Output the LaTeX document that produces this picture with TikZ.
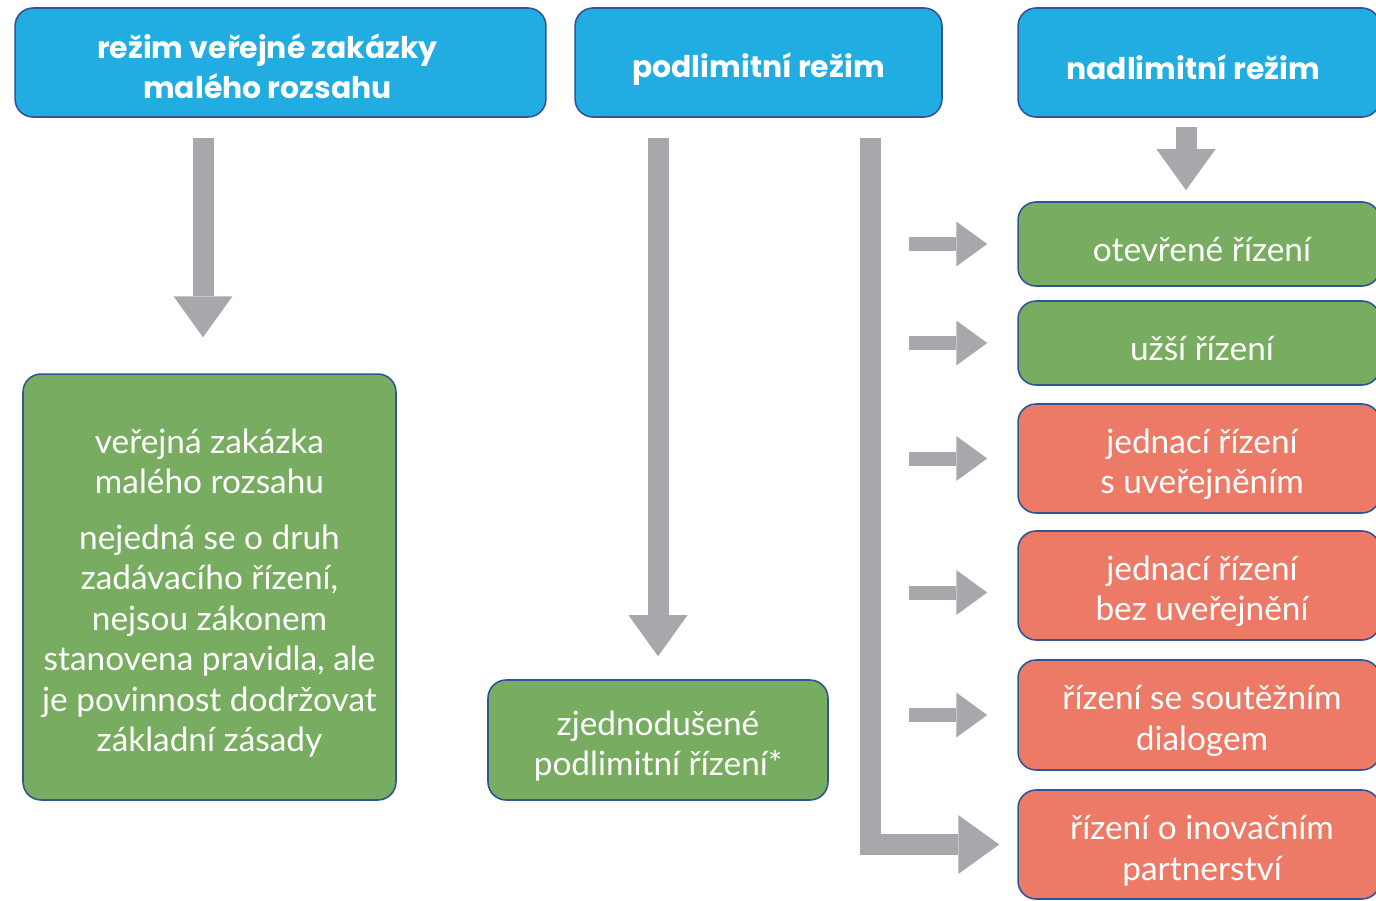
\documentclass[tikz,border=0pt]{standalone}
\usepackage{fontspec}
\setmainfont{Lato}
\newfontfamily\titlefont{Poppins}
\usetikzlibrary{arrows.meta}
\definecolor{topblue}{RGB}{33,172,226}
\definecolor{boxline}{RGB}{47,85,151}
\definecolor{boxgreen}{RGB}{120,173,97}
\definecolor{boxred}{RGB}{236,122,103}
\definecolor{arrowgray}{RGB}{167,168,171}
\begin{document}
\begin{tikzpicture}[x=0.02cm,y=-0.02cm,
  basebox/.style={draw=boxline, line width=0.9pt, rounded corners=0.36cm, inner sep=0pt},
  topbox/.style={basebox, fill=topblue, minimum height=2.18cm},
  greenbox/.style={basebox, fill=boxgreen},
  redbox/.style={basebox, fill=boxred},
  rightbox/.style={minimum width=7.24cm},
  toptext/.style={text=white, align=center, inner sep=0pt, font=\titlefont\bfseries\fontsize{17pt}{22.7pt}\selectfont},
  bodytext/.style={text=white, align=center, inner sep=0pt, font=\fontsize{19pt}{23pt}\selectfont},
  bigarrow/.style={draw=arrowgray, line width=0.42cm, line join=miter,
     -{Triangle[length=0.82cm 0 0, width=1.18cm 0 0, line width=0pt, fill=arrowgray]}},
  smallarrow/.style={draw=arrowgray, line width=0.28cm,
     -{Triangle[length=0.62cm 0 0, width=0.9cm 0 0, line width=0pt, fill=arrowgray]}}
]
\useasboundingbox (0,0) rectangle (1376,900);
\clip (0,0) rectangle (1376,900);

% top boxes
\node[topbox, minimum width=10.62cm] (t1) at (280.5,62.5) {};
\node[topbox, minimum width=7.34cm] (t2) at (758.5,62.5) {};
\node[topbox, minimum width=7.24cm] (t3) at (1199,62.5) {};
\node[toptext] (t1x) at ([xshift=-0.26cm,yshift=-0.08cm]t1.center) {režim veřejné zakázky\\malého rozsahu};
\node[toptext] (t2x) at ([yshift=-0.14cm]t2.center) {podlimitní režim};
\node[toptext] (t3x) at ([xshift=-0.12cm,yshift=-0.1cm]t3.center) {nadlimitní režim};

% left and middle boxes
\node[greenbox, minimum width=7.46cm, minimum height=8.52cm] (lg) at (209.5,587) {};
\node[bodytext] (lgx) at ([yshift=-0.12cm]lg.center)
  {veřejná zakázka\\malého rozsahu\\[8.8pt]nejedná se o druh\\zadávacího řízení,\\nejsou zákonem\\stanovena pravidla, ale\\je povinnost dodržovat\\základní zásady};
\node[greenbox, minimum width=6.8cm, minimum height=2.4cm] (mg) at (658,740) {};
\node[bodytext] (mgx) at ([yshift=-0.12cm]mg.center) {zjednodušené\\podlimitní řízení*};

% right boxes
\node[greenbox, rightbox, minimum height=1.68cm] (ote) at (1199,244) {};
\node[greenbox, rightbox, minimum height=1.68cm] (uzs) at (1199,343) {};
\node[redbox, rightbox, minimum height=2.18cm] (js) at (1199,458.5) {};
\node[redbox, rightbox, minimum height=2.18cm] (jb) at (1199,585.5) {};
\node[redbox, rightbox, minimum height=2.2cm] (sd) at (1199,715) {};
\node[redbox, rightbox, minimum height=2.18cm] (ip) at (1199,844.5) {};
\node[bodytext] (otex) at ([xshift=0.06cm,yshift=-0.12cm]ote.center) {otevřené řízení};
\node[bodytext] (uzsx) at ([xshift=0.06cm,yshift=-0.12cm]uzs.center) {užší řízení};
\node[bodytext] (jsx) at ([xshift=0.06cm,yshift=-0.12cm]js.center) {jednací řízení\\s uveřejněním};
\node[bodytext] (jbx) at ([xshift=0.06cm,yshift=-0.12cm]jb.center) {jednací řízení\\bez uveřejnění};
\node[bodytext] (sdx) at ([xshift=0.06cm,yshift=-0.12cm]sd.center) {řízení se soutěžním\\dialogem};
\node[bodytext] (ipx) at ([xshift=0.06cm,yshift=-0.12cm]ip.center) {řízení o inovačním\\partnerství};

% arrow start points
\coordinate (a1) at (203,138);
\coordinate (a2) at (658,138);
\coordinate (a3) at (870.5,138);
\coordinate (a4) at (1186,127);
\coordinate (jbin) at ([yshift=-0.14cm]jb.west);

\draw[bigarrow, shorten >=0.72cm] (a1) -- (a1 |- lg.north);
\draw[bigarrow, shorten >=0.46cm] (a2) -- (mg.north);
\draw[bigarrow, shorten >=0.22cm] (a4) -- (a4 |- ote.north);
\draw[bigarrow, shorten >=0.36cm] (a3) |- (ip.west);

\foreach \b in {ote,uzs,js,sd}{
  \draw[smallarrow, shorten >=0.6cm] (909,0 |- \b.west) -- (\b.west);
}
\draw[smallarrow, shorten >=0.6cm] (909,0 |- jbin) -- (jbin);
\end{tikzpicture}
\end{document}
